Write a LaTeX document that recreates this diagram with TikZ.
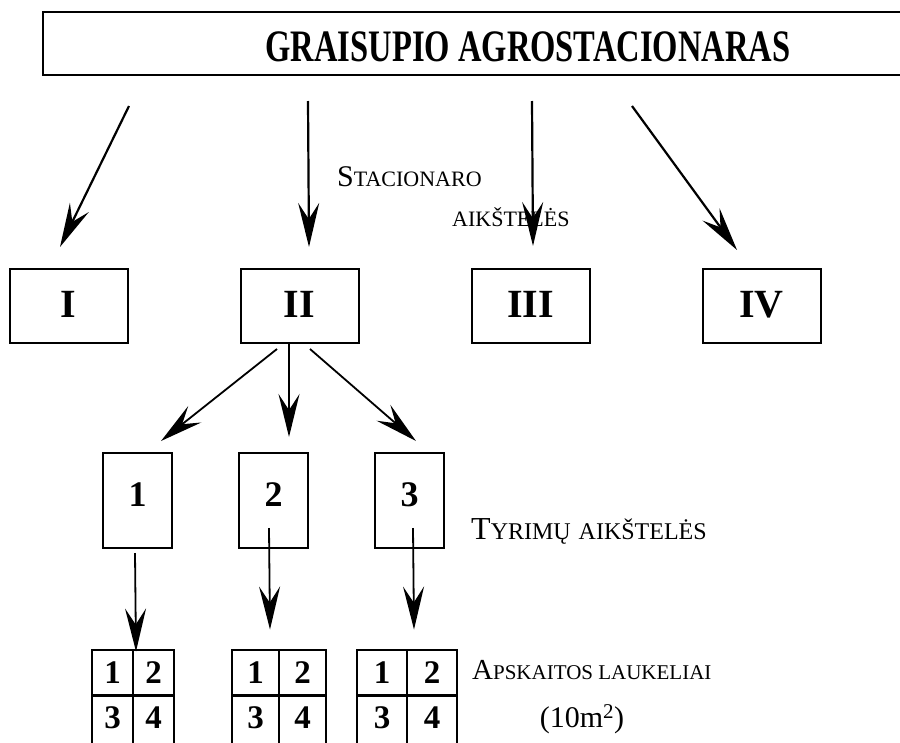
\documentclass[tikz,border=0pt]{standalone}
\usepackage{fontspec}
\setmainfont{Liberation Serif}
\usetikzlibrary{arrows.meta,calc}
\newcommand\smcap[4]{{\fontsize{#3}{#3}\selectfont #1}{\fontsize{#4}{#4}\selectfont #2}}
\begin{document}
\begin{tikzpicture}[x=1pt,y=-1pt,
  frame/.style={draw,line width=2pt,inner sep=0pt},
  roman/.style={frame,minimum width=118pt,minimum height=74pt,text depth=4pt,font=\fontsize{40}{40}\selectfont\bfseries},
  plot/.style={frame,minimum width=69pt,minimum height=95pt,text depth=12pt,font=\fontsize{36}{36}\selectfont\bfseries},
  cell/.style={frame,minimum height=46pt,font=\fontsize{33}{33}\selectfont\bfseries},
  lowcell/.style={frame,minimum height=50pt,text depth=4pt,font=\fontsize{33}{33}\selectfont\bfseries},
  arr/.style={line width=2.2pt,-{Stealth[length=44pt,width=21pt,inset=16pt]}},
  sarr/.style={line width=1.8pt,-{Stealth[length=43pt,width=21pt,inset=16pt]}},
  lbl/.style={inner sep=0pt}
]
\useasboundingbox (0,0) rectangle (900,742);
\clip (0,0) rectangle (900,742);

% top box
\node[frame,minimum width=867pt,minimum height=63pt] (top) at (476.5,43.5) {};
\node[lbl] (title) at (528,47) {\resizebox{525pt}{\height}{\fontsize{45}{45}\selectfont\bfseries GRAISUPIO AGROSTACIONARAS}};

% stations
\node[roman] (I) at (68.5,306) {I};
\node[roman] (II) at (299.5,306) {II};
\node[roman] (III) at (530.5,306) {III};
\node[roman] (IV) at (761.5,306) {IV};

% plots
\node[plot] (b1) at (137.5,500.5) {1};
\node[plot] (b2) at (273.5,500.5) {2};
\node[plot] (b3) at (409.5,500.5) {3};

% grids
\node[cell,minimum width=41pt] (g1a) at (112.5,672.5) {1};
\node[cell,minimum width=41pt] (g1b) at (153.5,672.5) {2};
\node[lowcell,minimum width=41pt] (g1c) at (112.5,720) {3};
\node[lowcell,minimum width=41pt] (g1d) at (153.5,720) {4};

\node[cell,minimum width=47pt] (g2a) at (255.5,672.5) {1};
\node[cell,minimum width=47pt] (g2b) at (302.5,672.5) {2};
\node[lowcell,minimum width=47pt] (g2c) at (255.5,720) {3};
\node[lowcell,minimum width=47pt] (g2d) at (302.5,720) {4};

\node[cell,minimum width=50pt] (g3a) at (382,672.5) {1};
\node[cell,minimum width=50pt] (g3b) at (432,672.5) {2};
\node[lowcell,minimum width=50pt] (g3c) at (382,720) {3};
\node[lowcell,minimum width=50pt] (g3d) at (432,720) {4};

% labels
\node[lbl,anchor=base west] (stac) at (337,186) {\smcap{S}{TACIONARO}{30}{22}};
\node[lbl,anchor=base west] (aiks) at (452,226) {\fontsize{22}{22}\selectfont AIKŠTELĖS};
\node[lbl,anchor=base west] (tyr) at (471,539) {\smcap{T}{YRIMŲ\hspace{2pt} AIKŠTELĖS}{32}{24}};
\node[lbl,anchor=base west] (aps) at (472,679) {\smcap{A}{PSKAITOS LAUKELIAI}{29}{21}};
\node[lbl] (area) at (582,719) {\fontsize{30}{30}\selectfont (10m\textsuperscript{2})};

% arrows from top box
\draw[arr] ($(top.south west)+(87,30)$) -- ($(I.north)+(-8.5,-21)$);
\draw[arr] ($(top.south west)+(266,25)$) -- ($(II.north)+(9.5,-21)$);
\draw[arr] ($(top.south west)+(490,25)$) -- ($(III.north)+(2.5,-22)$);
\draw[arr] ($(top.south west)+(590,30)$) -- ($(IV.north)+(-24.5,-18)$);

% arrows from II
\draw[sarr] ($(II.south)+(-22.5,5)$) -- ($(b1.north)+(23.5,-11)$);
\draw[sarr] ($(II.south)+(-10.5,0)$) -- ($(b2.north)+(15.5,-15)$);
\draw[sarr] ($(II.south)+(10.5,5)$) -- ($(b3.north)+(6.5,-11)$);

% arrows to grids
\draw[sarr] ($(b1.south)+(-2.5,4)$) -- ($(g1a.north east)+(2,3)$);
\draw[sarr] ($(b2.south)+(-4.5,-21)$) -- ($(g2a.north east)+(-10,-19)$);
\draw[sarr] ($(b3.south)+(3.5,-21)$) -- ($(g3a.north east)+(6,-19)$);
\end{tikzpicture}
\end{document}
